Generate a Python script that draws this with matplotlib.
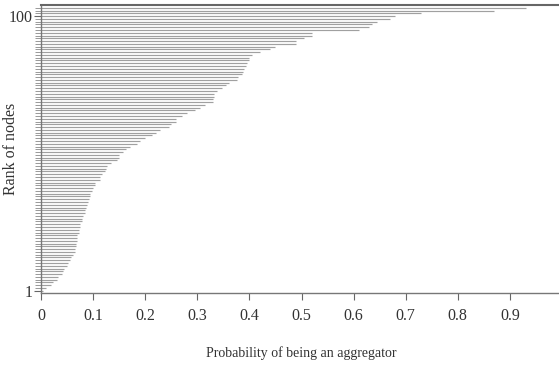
import matplotlib
matplotlib.use("Agg")
import matplotlib.pyplot as plt
import numpy as np

# Probability values, listed from the top-ranked node down to rank 1
probs_desc = [
    0.93, 0.87, 0.73, 0.68, 0.67, 0.645, 0.635, 0.63, 0.61, 0.52,
    0.52, 0.505, 0.49, 0.49, 0.45, 0.44, 0.42, 0.405, 0.40, 0.40,
    0.396, 0.394, 0.39, 0.387, 0.385, 0.378, 0.376, 0.36, 0.355, 0.347,
    0.337, 0.333, 0.333, 0.33, 0.33, 0.315, 0.305, 0.295, 0.28, 0.27,
    0.26, 0.26, 0.25, 0.245, 0.228, 0.22, 0.213, 0.20, 0.19, 0.185,
    0.17, 0.164, 0.157, 0.15, 0.15, 0.145, 0.135, 0.126, 0.124, 0.122,
    0.118, 0.114, 0.113, 0.103, 0.103, 0.10, 0.098, 0.095, 0.095, 0.092,
    0.09, 0.089, 0.087, 0.084, 0.084, 0.081, 0.078, 0.078, 0.074, 0.074,
    0.072, 0.072, 0.07, 0.07, 0.069, 0.068, 0.068, 0.066, 0.065, 0.061,
    0.058, 0.055, 0.051, 0.049, 0.045, 0.042, 0.04, 0.033, 0.03, 0.023,
    0.02, 0.01, 0.003,
]
probs = probs_desc[::-1]
ranks = list(range(1, len(probs) + 1))

x_ticks = [0, 0.1, 0.2, 0.3, 0.4, 0.5, 0.6, 0.7, 0.8, 0.9]
x_tick_labels = ["0", "0.1", "0.2", "0.3", "0.4", "0.5", "0.6", "0.7", "0.8", "0.9"]
y_ticks = [1, 100]
y_tick_labels = ["1", "100"]

plt.rcParams["font.family"] = ["Liberation Serif", "DejaVu Serif"]

fig = plt.figure(figsize=(5.59, 3.66), dpi=100)
ax = fig.add_axes([41 / 559, 1 - 293 / 366, 521 / 559, 288 / 366])

ax.hlines(ranks, 0, probs, color="#a0a0a0", linewidth=0.85)

ax.set_xlim(0, 1.0)
ax.set_ylim(0.2, 104)

ax.set_xticks(x_ticks)
ax.set_xticklabels(x_tick_labels, fontsize=11.5, color="#333333")
ax.set_yticks(y_ticks)
ax.set_yticklabels(y_tick_labels, fontsize=11.5, color="#333333")
ax.set_yticks(ranks, minor=True)

ax.tick_params(axis="x", direction="out", length=5, width=0.8, color="#666666", pad=6)
ax.tick_params(axis="y", which="major", direction="out", length=5, width=0.8, color="#666666", pad=1)
ax.tick_params(axis="y", which="minor", direction="out", length=4, width=0.6, color="#888888")

for side in ["top", "bottom", "left", "right"]:
    ax.spines[side].set_color("#777777")
    ax.spines[side].set_linewidth(1.0)
ax.spines["top"].set_linewidth(1.5)
ax.spines["top"].set_color("#666666")

ax.set_xlabel("Probability of being an aggregator", fontsize=10, color="#333333", labelpad=16)
ax.set_ylabel("Rank of nodes", fontsize=11.5, color="#333333")
ax.yaxis.set_label_coords(-0.042, 0.5)

fig.savefig("out.png", dpi=100)
